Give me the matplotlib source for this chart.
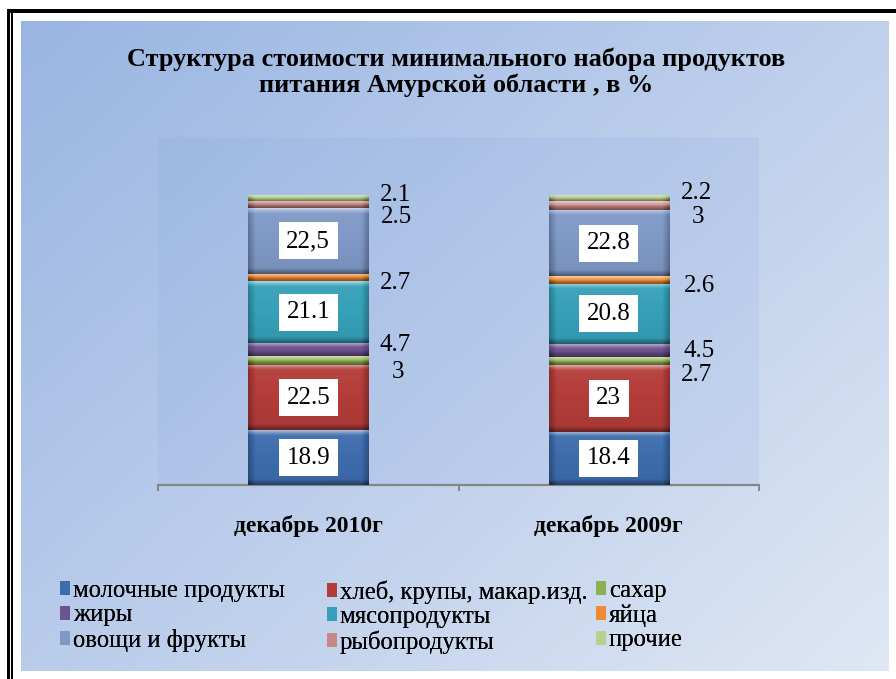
import numpy as np
import matplotlib
matplotlib.use("Agg")
import matplotlib.pyplot as plt
import matplotlib.colors as mcolors
from matplotlib.patches import Rectangle

# ---------------- data ----------------
categories = ["декабрь 2010г", "декабрь 2009г"]
series = ["молочные продукты", "хлеб, крупы, макар.изд.", "сахар",
          "жиры", "мясопродукты", "яйца",
          "овощи и фрукты", "рыбопродукты", "прочие"]
values_2010 = [18.9, 22.5, 3, 4.7, 21.1, 2.7, 22.5, 2.5, 2.1]
values_2009 = [18.4, 23, 2.7, 4.5, 20.8, 2.6, 22.8, 3, 2.2]
labels_2010 = ["18.9", "22.5", "3", "4.7", "21.1", "2.7", "22,5", "2.5", "2.1"]
labels_2009 = ["18.4", "23", "2.7", "4.5", "20.8", "2.6", "22.8", "3", "2.2"]
title = "Структура стоимости минимального набора продуктов\nпитания Амурской области , в %"

# ---------------- style ----------------
colors = ["#3d6cad", "#b33c39", "#8fb050", "#6e5391", "#35a0b8", "#ee8a34",
          "#7f98c6", "#c98785", "#b9cf8e"]
inside = [True, True, False, False, True, False, True, False, False]
# offsets (points) for labels placed outside the bar: (dx from bar right edge, dy)
out_offsets = [
    {2: (21, -8.5), 3: (19, 3), 5: (19.5, -4), 7: (20, -9), 8: (19.5, 2.5)},
    {2: (20, -10), 3: (22, -0.5), 5: (22, -4), 7: (21, -8), 8: (20, 4)},
]
SERIF = ["Liberation Serif", "DejaVu Serif"]
plt.rcParams["font.family"] = SERIF

W, H = 896, 679
fig = plt.figure(figsize=(W / 100, H / 100), dpi=100)
fig.patch.set_facecolor("white")

# background gradient panel
bg = fig.add_axes([21 / W, 1 - 671 / H, 867 / W, 650 / H], zorder=0)
bg.set_axis_off()
gx, gy = np.meshgrid(np.linspace(0, 1, 300), np.linspace(0, 1, 240))
t = np.clip((gx * 0.55 + gy * 0.45), 0, 1)
c0 = np.array([153, 181, 226]) / 255
c1 = np.array([223, 231, 244]) / 255
img = c0[None, None, :] * (1 - t[..., None]) + c1[None, None, :] * t[..., None]
bg.imshow(img, extent=(0, 1, 0, 1), origin="upper", aspect="auto", interpolation="bilinear")
bg.set_xlim(0, 1)
bg.set_ylim(0, 1)

# black borders
for (x, y, w, h) in [(7, 9, 3, 670), (11, 11, 2, 668), (7, 9, 889, 4)]:
    fig.add_artist(Rectangle((x / W, 1 - (y + h) / H), w / W, h / H,
                             transform=fig.transFigure, facecolor="black",
                             edgecolor="none", zorder=5))

# plot axes
ax = fig.add_axes([158 / W, 1 - 485 / H, 601 / W, 348 / H], zorder=1)
ax.set_facecolor((0.42, 0.58, 0.86, 0.10))
ax.set_xlim(-0.5, 1.5)
ax.set_ylim(0, 120)
for s in ["top", "right", "left"]:
    ax.spines[s].set_visible(False)
ax.spines["bottom"].set_color("#868686")
ax.spines["bottom"].set_linewidth(1.6)
ax.set_yticks([])
ax.set_xticks([-0.5, 0.5, 1.5])
ax.set_xticklabels([])
ax.tick_params(axis="x", which="major", length=4, width=1.4, color="#868686")
ax.set_xticks([0, 1], minor=True)
ax.set_xticklabels(categories, minor=True, fontsize=17, fontweight="bold")
ax.tick_params(axis="x", which="minor", length=0, pad=21.5)

x = np.arange(len(categories))
data = np.array([values_2010, values_2009])
labels = [labels_2010, labels_2009]
bottom = np.zeros(len(categories))
bar_width = 0.40


def bevel(color, wpx, hpx):
    base = np.array(mcolors.to_rgb(color))
    Hh = max(int(round(hpx)), 2)
    Ww = max(int(round(wpx)), 2)
    yy, xx = np.mgrid[0:Hh, 0:Ww] + 0.5
    dt, db = yy, Hh - yy
    dside = np.minimum(xx, Ww - xx)
    b = 6.0
    shade = 0.12 * (1 - yy / Hh) - 0.06
    top = np.clip(1 - dt / b, 0, 1)
    bot = np.clip(1 - db / b, 0, 1)
    side = np.clip(1 - dside / (b * 1.3), 0, 1)
    shade = shade + 0.55 * top ** 1.3 - 0.38 * bot - 0.28 * side
    shade = np.clip(shade, -0.6, 0.7)
    out = np.where(shade[..., None] > 0,
                   base + (1 - base) * shade[..., None],
                   base * (1 + shade[..., None]))
    return np.clip(out, 0, 1)


for i, name in enumerate(series):
    bars = ax.bar(x, data[:, i], bar_width, bottom=bottom, color=colors[i],
                  label=name, zorder=2, linewidth=0)
    for j, p in enumerate(bars.patches):
        x0, y0 = p.get_x(), p.get_y()
        w, h = p.get_width(), p.get_height()
        (px0, py0), (px1, py1) = ax.transData.transform([(x0, y0), (x0 + w, y0 + h)])
        im = ax.imshow(bevel(colors[i], px1 - px0, py1 - py0),
                       extent=(x0, x0 + w, y0, y0 + h), origin="upper",
                       aspect="auto", interpolation="bilinear", zorder=3)
        im.set_clip_path(p)
        yc = y0 + h / 2
        if inside[i]:
            ax.text(x0 + w / 2, yc, labels[j][i], ha="center", va="center",
                    fontsize=18, color="black", zorder=6,
                    bbox=dict(boxstyle="square,pad=0.3", facecolor="white",
                              edgecolor="none"))
        else:
            dx, dy = out_offsets[j][i]
            ax.annotate(labels[j][i], xy=(x0 + w, yc), xytext=(dx, dy),
                        textcoords="offset points", ha="center", va="center",
                        fontsize=18, color="black", zorder=6)
    bottom += data[:, i]
ax.set_xlim(-0.5, 1.5)
ax.set_ylim(0, 120)

# title
fig.text(456 / W, 1 - 72 / H, title, ha="center", va="center", fontsize=18.9,
         fontweight="bold", linespacing=1.12)

# legend: three columns placed like the original (row-major order)
handles = [Rectangle((0, 0), 1, 1, facecolor=c, edgecolor="none") for c in colors]
col_x = [60, 327, 596]
for c in range(3):
    idx = [c + 3 * r for r in range(3)]
    leg = fig.legend([handles[k] for k in idx], [series[k] for k in idx],
                     loc="upper left", bbox_to_anchor=(col_x[c] / W, 1 - 580 / H),
                     frameon=False, fontsize=17.7, handlelength=0.4,
                     handleheight=0.5, handletextpad=0.12, labelspacing=0.1,
                     borderpad=0, borderaxespad=0)
    fig.add_artist(leg)

fig.savefig("out.png", dpi=100, facecolor="white")
